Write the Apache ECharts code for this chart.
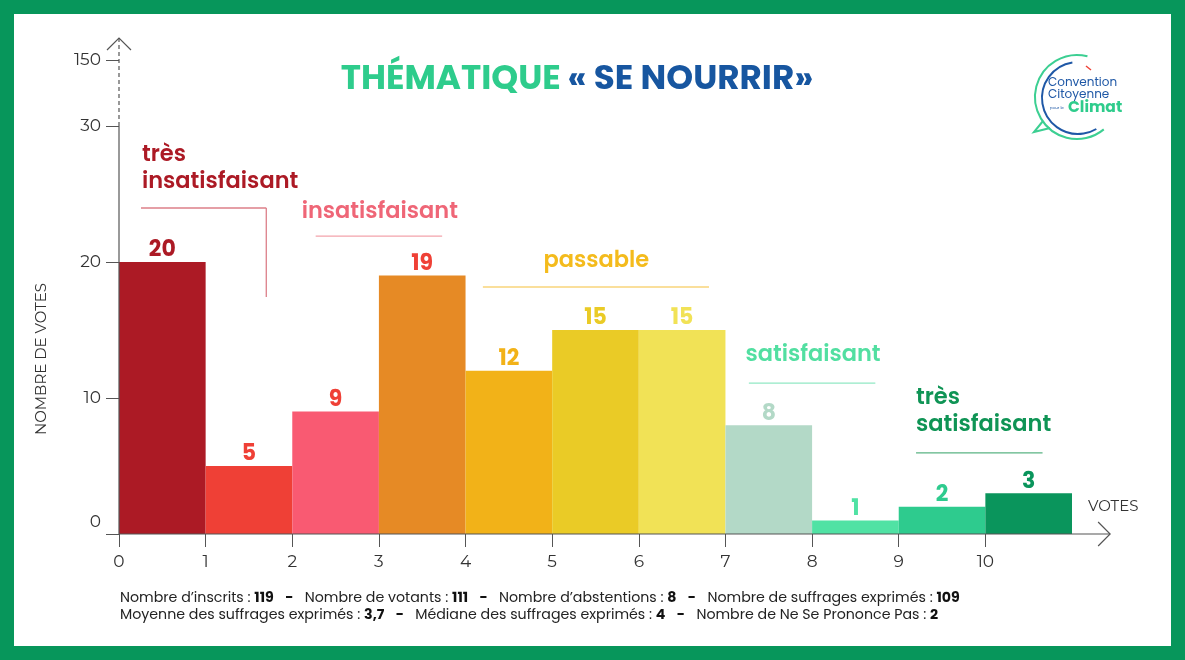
<!DOCTYPE html>
<html>
<head>
<meta charset="utf-8">
<script src="https://cdn.jsdelivr.net/npm/echarts@6/dist/echarts.min.js"></script>
<style>
html,body{margin:0;padding:0;background:#fff;}
#chart{width:1185px;height:660px;}
</style>
</head>
<body>
<div id="chart"></div>
<script>
// ---- data ----
const scoreCategories = ['0','1','2','3','4','5','6','7','8','9','10'];
const votes = [20, 5, 9, 19, 12, 15, 15, 8, 1, 2, 3];
const barColors = ['#ac1a25','#ef4036','#f95a72','#e68a25','#f2b218','#eacb26','#f1e256','#b3d9c7','#50e2a4','#2ecb8e','#0a955c'];
const labelColors = ['#ac1a25','#ef4036','#ef4036','#ef4036','#f2b218','#eacb26','#f1e256','#b3d9c7','#50e2a4','#2ecb8e','#0a955c'];
const yTickValues = [0, 10, 20, 30];
const yBreakLabel = '150';
const xTickLabels = ['0','1','2','3','4','5','6','7','8','9','10'];
const groupNames = ['très\ninsatisfaisant','insatisfaisant','passable','satisfaisant','très\nsatisfaisant'];
const footerLine1 = [['Nombre d\u2019inscrits : ','119'],['Nombre de votants : ','111'],['Nombre d\u2019abstentions : ','8'],['Nombre de suffrages exprimés : ','109']];
const footerLine2 = [['Moyenne des suffrages exprimés : ','3,7'],['Médiane des suffrages exprimés : ','4'],['Nombre de Ne Se Prononce Pas : ','2']];

const FONT = "'Poppins','Open Sans','Noto Sans',sans-serif";
const AXFONT = "'Montserrat','Noto Sans',sans-serif";
const yMax = 36.47;
const yBreakValue = 34.85;

const chart = echarts.init(document.getElementById('chart'), null, {renderer:'canvas'});

const option = {
  backgroundColor: '#ffffff',
  animation: false,
  grid: {left: 119, right: 113, top: 38, bottom: 126, containLabel: false},
  xAxis: {
    type: 'value', min: 0, max: 11, interval: 1,
    axisLine: {show: false},
    splitLine: {show: false},
    axisTick: {show: true, length: 13, lineStyle: {color: '#555', width: 1}, customValues: [0,1,2,3,4,5,6,7,8,9,10]},
    axisLabel: {
      customValues: [0,1,2,3,4,5,6,7,8,9,10],
      formatter: v => xTickLabels[v] !== undefined ? xTickLabels[v] : '',
      color: '#333', fontSize: 17, fontFamily: AXFONT, margin: 19
    }
  },
  yAxis: {
    type: 'value', min: 0, max: yMax,
    axisLine: {show: false},
    splitLine: {show: false},
    axisTick: {show: true, length: 13, lineStyle: {color: '#555', width: 1}, customValues: yTickValues.concat([yBreakValue])},
    axisLabel: {
      customValues: yTickValues.concat([yBreakValue]),
      formatter: v => {
        if (Math.abs(v - yBreakValue) < 0.01) return yBreakLabel;
        if (v === 0) return '{z|0}';
        return String(v);
      },
      rich: {z: {color: '#333', fontSize: 17, fontFamily: AXFONT, padding: [0, 0, 24, 0]}},
      color: '#333', fontSize: 17, fontFamily: AXFONT, margin: 18
    }
  },
  series: [{
    type: 'custom',
    data: votes.map((v, i) => [i, v]),
    renderItem: function (params, api) {
      const i = api.value(0), v = api.value(1);
      const p0 = api.coord([i, v]);
      const p1 = api.coord([i + 1, 0]);
      return {
        type: 'group',
        children: [
          {type: 'rect', shape: {x: p0[0], y: p0[1], width: p1[0] - p0[0], height: p1[1] - p0[1]}, style: {fill: barColors[i]}},
          {type: 'text', style: {text: String(v), x: (p0[0] + p1[0]) / 2, y: p0[1] - 11, align: 'center', verticalAlign: 'middle', fill: labelColors[i], font: "bold 22px " + FONT}}
        ]
      };
    }
  }]
};
chart.setOption(option);

function px(x, y) { return chart.convertToPixel({gridIndex: 0}, [x, y]); }

// annotation layout (data-space anchors; textY = centre of first line)
const groupStyle = [
  {color: '#ac1a25', line: '#dc7f89', textX: 0.265, textY: 27.87, align: 'left', lx0: 0.254, lx1: 1.7, ly: 23.97, drop: 17.43},
  {color: '#ef6677', line: '#f3a3ab', textX: 3.01, textY: 23.68, align: 'center', lx0: 2.27, lx1: 3.73, ly: 21.9},
  {color: '#f4bb1c', line: '#f8d57a', textX: 5.51, textY: 20.07, align: 'center', lx0: 4.2, lx1: 6.81, ly: 18.16},
  {color: '#52dfa1', line: '#92e8c4', textX: 8.01, textY: 13.16, align: 'center', lx0: 7.27, lx1: 8.73, ly: 11.1},
  {color: '#0f9455', line: '#5ab383', textX: 9.2, textY: 10.0, align: 'left', lx0: 9.2, lx1: 10.66, ly: 5.96}
];

const g = [];
// frame
g.push({type: 'rect', shape: {x: 7, y: 7, width: 1171, height: 646}, style: {fill: 'none', stroke: '#07965b', lineWidth: 14}, z: 100});

// axes
const o = px(0, 0), y30 = px(0, 30), yTop = px(0, yMax), xEnd = px(11.44, 0);
g.push({type: 'line', shape: {x1: o[0], y1: o[1], x2: xEnd[0], y2: o[1]}, style: {stroke: '#555', lineWidth: 1.2}, z: 50});
g.push({type: 'polyline', shape: {points: [[xEnd[0] - 12, o[1] - 12], [xEnd[0], o[1]], [xEnd[0] - 12, o[1] + 12]]}, style: {stroke: '#555', lineWidth: 1.2, fill: 'none'}, z: 50});
g.push({type: 'line', shape: {x1: o[0], y1: o[1], x2: o[0], y2: y30[1]}, style: {stroke: '#555', lineWidth: 1.2}, z: 50});
g.push({type: 'line', shape: {x1: o[0], y1: y30[1], x2: o[0], y2: yTop[1]}, style: {stroke: '#555', lineWidth: 1.2, lineDash: [4, 3]}, z: 50});
g.push({type: 'polyline', shape: {points: [[o[0] - 12, yTop[1] + 12], [o[0], yTop[1]], [o[0] + 12, yTop[1] + 12]]}, style: {stroke: '#555', lineWidth: 1.2, fill: 'none'}, z: 50});
g.push({type: 'text', style: {text: 'VOTES', x: 1088, y: 507, align: 'left', verticalAlign: 'middle', fill: '#333', font: "15px " + AXFONT}});
// y axis name
g.push({type: 'text', x: 42, y: 359, rotation: Math.PI / 2, style: {text: 'NOMBRE DE VOTES', x: 0, y: 0, align: 'center', verticalAlign: 'middle', fill: '#333', font: "15px " + AXFONT}});

// group annotations
const LH = 27;
groupNames.forEach((name, k) => {
  const s = groupStyle[k];
  const t = px(s.textX, s.textY);
  g.push({type: 'text', style: {text: name, x: t[0], y: t[1] - LH / 2, align: s.align, verticalAlign: 'top', fill: s.color, font: "600 22.5px " + FONT, lineHeight: LH}, z: 20});
  const a = px(s.lx0, s.ly), b = px(s.lx1, s.ly);
  g.push({type: 'line', shape: {x1: a[0], y1: a[1], x2: b[0], y2: b[1]}, style: {stroke: s.line, lineWidth: 1.3}, z: 20});
  if (s.drop !== undefined) {
    const d = px(s.lx1, s.drop);
    g.push({type: 'line', shape: {x1: b[0], y1: b[1], x2: d[0], y2: d[1]}, style: {stroke: s.line, lineWidth: 1.3}, z: 20});
  }
});

// title
g.push({type: 'text', style: {
  text: '{g|THÉMATIQUE}  {b|« SE NOURRIR»}', x: 577, y: 80, align: 'center', verticalAlign: 'middle',
  rich: {g: {fill: '#2ecc8c', font: "bold 34.2px " + FONT}, b: {fill: '#1756a0', font: "bold 34.2px " + FONT}}
}});

// footer
function footer(parts) {
  return parts.map(p => '{n|' + p[0] + '}{b|' + p[1] + '}').join('{n|   }{b|-}{n|   }');
}
const footRich = {n: {fill: '#222', font: "14.2px " + FONT}, b: {fill: '#111', font: "bold 14.2px " + FONT}};
g.push({type: 'text', style: {text: footer(footerLine1), x: 120, y: 598, align: 'left', verticalAlign: 'middle', rich: footRich}});
g.push({type: 'text', style: {text: footer(footerLine2), x: 120, y: 615, align: 'left', verticalAlign: 'middle', rich: footRich}});

// logo
const cx = 1077, cy = 97;
g.push({type: 'arc', shape: {cx: cx, cy: cy, r: 42, startAngle: -Math.PI * 0.42, endAngle: Math.PI * 0.28, clockwise: false}, style: {stroke: '#3ccf92', lineWidth: 2, fill: 'none'}});
g.push({type: 'polyline', shape: {points: [[1043, 121], [1034, 132], [1050, 128]]}, style: {stroke: '#3ccf92', lineWidth: 2, fill: 'none'}});
g.push({type: 'arc', shape: {cx: cx + 1, cy: cy + 1, r: 36, startAngle: -Math.PI * 0.55, endAngle: Math.PI * 0.33, clockwise: false}, style: {stroke: '#1f58a6', lineWidth: 2, fill: 'none'}});
g.push({type: 'line', shape: {x1: 1086, y1: 66, x2: 1091, y2: 70}, style: {stroke: '#ef4036', lineWidth: 1.5}});
g.push({type: 'text', style: {text: 'Convention\nCitoyenne', x: 1048, y: 89, align: 'left', verticalAlign: 'middle', fill: '#1f58a6', font: "12px " + FONT, lineHeight: 12}});
g.push({type: 'text', style: {text: 'pour le', x: 1050, y: 108, align: 'left', verticalAlign: 'middle', fill: '#1f58a6', font: "4px " + FONT}});
g.push({type: 'text', style: {text: 'Climat', x: 1068, y: 108, align: 'left', verticalAlign: 'middle', fill: '#2ecc8c', font: "bold 15.5px " + FONT}});

chart.setOption({graphic: g});
</script>
</body>
</html>
